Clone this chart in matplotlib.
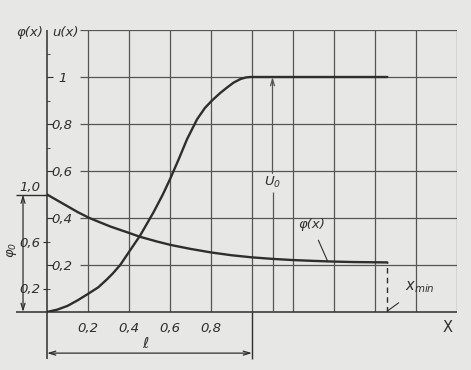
import matplotlib.pyplot as plt

plt.rcParams['font.family'] = ['Liberation Sans Narrow', 'DejaVu Sans']
plt.rcParams['font.style'] = 'italic'
plt.rcParams['font.size'] = 9.5
plt.rcParams['mathtext.fontset'] = 'custom'
plt.rcParams['mathtext.it'] = 'Liberation Sans Narrow:italic'
plt.rcParams['mathtext.rm'] = 'Liberation Sans Narrow:italic'

# values
x_u = [0, 0.05, 0.1, 0.15, 0.2, 0.25, 0.29, 0.32, 0.357, 0.405, 0.454, 0.52, 0.565,
       0.6, 0.642, 0.683, 0.732, 0.77, 0.805, 0.845, 0.878, 0.91, 0.943, 0.97, 0.99,
       1.2, 1.4, 1.66]
u = [0, 0.01, 0.026, 0.05, 0.077, 0.105, 0.137, 0.163, 0.200, 0.262, 0.325, 0.425, 0.50,
     0.565, 0.649, 0.735, 0.82, 0.868, 0.90, 0.932, 0.955, 0.976, 0.991, 0.998, 1.0,
     1.0, 1.0, 1.0]

x_phi = [0, 0.05, 0.1, 0.15, 0.207, 0.26, 0.31, 0.36, 0.405, 0.454, 0.536, 0.605, 0.7,
         0.8, 0.9, 1.0, 1.1, 1.2, 1.3, 1.4, 1.5, 1.66]
phi = [1.0, 0.95, 0.90, 0.85, 0.80, 0.762, 0.727, 0.697, 0.67, 0.64, 0.60, 0.57, 0.537,
       0.507, 0.483, 0.465, 0.452, 0.442, 0.435, 0.429, 0.425, 0.422]

x_min = 1.66
x_ticks = [0.2, 0.4, 0.6, 0.8]
x_ticklabels = ['0,2', '0,4', '0,6', '0,8']
u_ticks = [0.2, 0.4, 0.6, 0.8, 1.0]
u_ticklabels = ['0,2', '0,4', '0,6', '0,8', '1']
phi_ticks = [0.2, 0.6, 1.0]
phi_ticklabels = ['0,2', '0,6', '1,0']
grid_x = [0.2, 0.4, 0.6, 0.8, 1.0, 1.2, 1.4, 1.6, 1.8, 2.0]
grid_u = [0.2, 0.4, 0.6, 0.8, 1.0, 1.2]

paper = '#e7e7e5'
ink = '#2e2e2e'
grid_c = '#555555'

fig = plt.figure(figsize=(4.71, 3.70), dpi=100, facecolor=paper)
ax = fig.add_axes([47/471, 58/370, 410/471, 282/370])
ax.set_facecolor(paper)
ax.set_xlim(0, 2.0)
ax.set_ylim(0, 1.2)
for s in ax.spines.values():
    s.set_visible(False)

# grid
ax.vlines(grid_x, 0, 1.2, color=grid_c, lw=0.9)
ax.hlines(grid_u, 0.16, 2.0, color=grid_c, lw=0.9)
ax.hlines(0, -0.15, 2.0, color=ink, lw=1.1, clip_on=False)
ax.vlines(0, -0.2, 1.2, color=ink, lw=1.1, clip_on=False)

# ticks
ax.set_xticks(x_ticks, x_ticklabels)
ax.tick_params(axis='x', length=0, pad=7, colors=ink)
ax.set_yticks(u_ticks, u_ticklabels)
ax.set_yticks([0.1, 0.3, 0.5, 0.7, 0.9, 1.1], minor=True)
ax.tick_params(axis='y', which='major', direction='in', length=4, pad=-11, colors=ink)
ax.tick_params(axis='y', which='minor', direction='in', length=2.5, colors=ink)
for lab in ax.get_yticklabels():
    lab.set_ha('center')

# u(x)
ax.plot(x_u, u, color=ink, lw=1.7, solid_capstyle='round', solid_joinstyle='round')

# U0 arrow
ax.vlines(1.1, 0, 0.51, color=grid_c, lw=0.9)
ax.annotate('', xy=(1.1, 1.0), xytext=(1.1, 0.59),
            arrowprops=dict(arrowstyle='->,head_length=0.5,head_width=0.15',
                            color=grid_c, lw=0.9, shrinkA=0, shrinkB=0))
ax.text(1.1, 0.55, '$U_0$', ha='center', va='center', color=ink)

# phi axis
ax2 = ax.twinx()
ax2.set_ylim(0, 2.4)
for s in ax2.spines.values():
    s.set_visible(False)
ax2.yaxis.set_ticks_position('left')
ax2.set_yticks(phi_ticks, phi_ticklabels)
ax2.tick_params(axis='y', direction='out', length=3, pad=2, colors=ink)
ax2.get_yticklabels()[-1].set_va('bottom')

ax2.plot(x_phi, phi, color=ink, lw=1.7, solid_capstyle='round', solid_joinstyle='round')
ax2.vlines(x_min, 0, phi[-1], color=ink, lw=1.0, linestyles=(0, (4, 3)))
ax2.hlines(1.0, -0.15, 0, color=ink, lw=1.0, clip_on=False)

# phi0 dimension
ax2.annotate('', xy=(-0.117, 0), xytext=(-0.117, 1.0), annotation_clip=False,
             arrowprops=dict(arrowstyle='<->,head_length=0.5,head_width=0.15',
                             color=ink, lw=0.9, shrinkA=0, shrinkB=0))
ax2.text(-0.17, 0.53, r'$\varphi_0$', rotation=90, ha='center', va='center', color=ink)

# l dimension
ax.vlines(1.0, -0.2, 0, color=ink, lw=1.0, clip_on=False)
ax.annotate('', xy=(0, -0.175), xytext=(1.0, -0.175), annotation_clip=False,
            arrowprops=dict(arrowstyle='<->,head_length=0.5,head_width=0.15',
                            color=ink, lw=0.9, shrinkA=0, shrinkB=0))
ax.text(0.48, -0.135, 'ℓ', ha='center', va='center', color=ink, fontsize=11,
        clip_on=False)

# labels
ax.text(-0.083, 1.19, 'φ(x)', ha='center', va='center', color=ink)
ax.text(0.088, 1.19, 'u(x)', ha='center', va='center', color=ink)
ax.text(1.956, -0.064, 'X', ha='center', va='center', color=ink, style='normal',
        fontsize=10.5)

ax.annotate('φ(x)', xy=(1.37, 0.214), xytext=(1.29, 0.372), ha='center', va='center',
            color=ink, arrowprops=dict(arrowstyle='-', color=ink, lw=0.8,
                                       shrinkA=5, shrinkB=0))
ax.annotate('$x_{min}$', xy=(x_min, 0.004), xytext=(1.82, 0.105), ha='center',
            va='center', color=ink, fontsize=10.5,
            arrowprops=dict(arrowstyle='-', color=ink, lw=0.8, shrinkA=6, shrinkB=0))

fig.savefig('out.png', dpi=100, facecolor=paper)
